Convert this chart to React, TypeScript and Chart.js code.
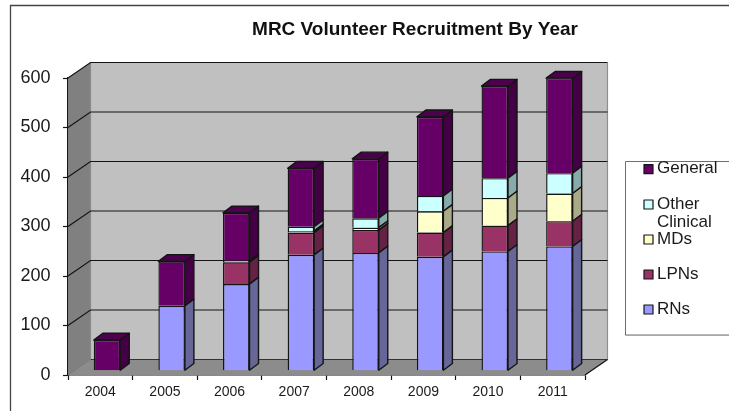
import React, { useEffect, useRef } from "react";
import { Chart, registerables } from "chart.js";

Chart.register(...registerables);

const years = ["2004", "2005", "2006", "2007", "2008", "2009", "2010", "2011"];
const rns = [null, 131, 175, 234, 238, 230, 241, 251];
const lpns = [null, null, 44, 45, 46, 49, 52, 51];
const mds = [null, null, 3, 3, 5, 43, 56, 56];
const otherClinical = [null, null, null, 9, 19, 31, 40, 41];
const general = [62, 90, 97, 118, 120, 160, 186, 192];

const FONT = "'Liberation Sans', Arial, sans-serif";
const INK = "#141414";
// shift of the bar row into the floor, and depth of each bar
const ROW = { x: 6.7, y: -4.3 };
const BAR = { x: 9, y: -6.7 };
// depth of the whole plot box
const BOX = { x: 22.5, y: -15.5 };

const series = [
  { label: "RNs", data: rns, front: "#9999FF", side: "#666699" },
  { label: "LPNs", data: lpns, front: "#993366", side: "#662244" },
  { label: "MDs", data: mds, front: "#FFFFCC", side: "#AAAA88" },
  { label: "Other Clinical", data: otherClinical, front: "#CCFFFF", side: "#88AAAA" },
  { label: "General", data: general, front: "#660066", side: "#440044" },
];
const topFace = "#4D004D";

function poly(ctx: CanvasRenderingContext2D, pts: number[][], fill: string | null, stroke: string | null, lw = 1.4) {
  ctx.beginPath();
  pts.forEach((p, i) => (i ? ctx.lineTo(p[0], p[1]) : ctx.moveTo(p[0], p[1])));
  ctx.closePath();
  if (fill) {
    ctx.fillStyle = fill;
    ctx.fill();
  }
  if (stroke) {
    ctx.strokeStyle = stroke;
    ctx.lineWidth = lw;
    ctx.lineJoin = "round";
    ctx.stroke();
  }
}

function line(ctx: CanvasRenderingContext2D, pts: number[][], color: string, lw: number) {
  ctx.beginPath();
  pts.forEach((p, i) => (i ? ctx.lineTo(p[0], p[1]) : ctx.moveTo(p[0], p[1])));
  ctx.strokeStyle = color;
  ctx.lineWidth = lw;
  ctx.stroke();
}

const frame3d = {
  id: "frame3d",
  beforeDraw(chart: any) {
    const { ctx } = chart;
    ctx.save();
    line(ctx, [[10.5, 411], [10.5, 5.5], [729, 5.5]], "#444444", 1.3);
    ctx.restore();
  },
  beforeDatasetsDraw(chart: any) {
    const { ctx, chartArea: a, scales } = chart;
    const { left: l, right: r, top: t, bottom: b } = a;
    const dx = BOX.x;
    const dy = BOX.y;
    ctx.save();
    poly(ctx, [[l + dx, t + dy], [r + dx, t + dy], [r + dx, b + dy], [l + dx, b + dy]], "#C0C0C0", null);
    poly(ctx, [[l, t], [l + dx, t + dy], [l + dx, b + dy], [l, b]], "#808080", null);
    poly(ctx, [[l, b], [l + dx, b + dy], [r + dx, b + dy], [r, b]], "#8C8C8C", null);
    // back wall right edge
    line(ctx, [[r + dx, t + dy], [r + dx, b + dy]], "#8F8F8F", 1.2);
    line(ctx, [[l + dx, t + dy], [l + dx, b + dy]], "#8A8A8A", 1.2);
    scales.y.ticks.forEach((tick: any, i: number) => {
      const y = scales.y.getPixelForTick(i);
      if (tick.value === 0) {
        line(ctx, [[l + dx, b + dy], [r + dx, b + dy]], "#333333", 1.2);
        line(ctx, [[l, b], [l + dx, b + dy]], "#777777", 1);
      } else {
        line(ctx, [[l, y], [l + dx, y + dy], [r + dx, y + dy]], INK, 1.2);
      }
    });
    line(ctx, [[r, b], [r + dx, b + dy]], INK, 1.3);
    ctx.restore();
  },
  beforeDatasetDraw(chart: any) {
    chart.ctx.save();
    chart.ctx.translate(ROW.x, ROW.y);
  },
  afterDatasetDraw(chart: any, args: any) {
    const { ctx } = chart;
    const meta = args.meta;
    const s = series[args.index];
    meta.data.forEach((el: any, i: number) => {
      if (el.skip || series[args.index].data[i] == null) return;
      const p = el.getProps(["x", "y", "base", "width"], true);
      const x0 = p.x - p.width / 2;
      const x1 = p.x + p.width / 2;
      poly(ctx, [[x1, p.y], [x1 + BAR.x, p.y + BAR.y], [x1 + BAR.x, p.base + BAR.y], [x1, p.base]], s.side, INK);
      const isTop = series.slice(args.index + 1).every((o) => o.data[i] == null);
      if (isTop) {
        poly(ctx, [[x0, p.y], [x0 + BAR.x, p.y + BAR.y], [x1 + BAR.x, p.y + BAR.y], [x1, p.y]], topFace, INK);
      }
    });
    ctx.restore();
  },
  afterDraw(chart: any) {
    const { ctx } = chart;
    ctx.save();
    // legend box, open to the right edge of the page
    ctx.fillStyle = "#FFFFFF";
    ctx.fillRect(625.5, 161.5, 104, 173);
    line(ctx, [[729, 161.5], [625.5, 161.5], [625.5, 335], [729, 335]], "#6E6E6E", 1);
    line(ctx, [[625.5, 335.5], [729, 335.5]], "#A8A8A8", 1);
    ctx.font = `17px ${FONT}`;
    ctx.textBaseline = "middle";
    ctx.textAlign = "left";
    const centers = [168.7, 204, 239, 274, 309];
    [...series].reverse().forEach((s, i) => {
      const cy = centers[i];
      poly(ctx, [[644, cy - 4], [653, cy - 4], [653, cy + 5], [644, cy + 5]], s.front, INK, 1.2);
      ctx.fillStyle = "#1A1A1A";
      const words = s.label.split(" ");
      words.forEach((w, k) => ctx.fillText(w, 657, cy + k * 18));
    });
    ctx.restore();
  },
};

export default function App() {
  const ref = useRef<HTMLCanvasElement | null>(null);
  useEffect(() => {
    document.body.style.margin = "0";
    const chart = new Chart(ref.current as HTMLCanvasElement, {
      type: "bar",
      data: {
        labels: years,
        datasets: series.map((s) => ({
          label: s.label,
          data: s.data,
          backgroundColor: s.front,
          borderColor: INK,
          borderWidth: 1.4,
          barPercentage: 0.41,
          categoryPercentage: 1,
          clip: false,
        })),
      },
      options: {
        animation: false,
        responsive: false,
        layout: { padding: { left: 0, right: 144, top: 0, bottom: 0 } },
        plugins: {
          legend: { display: false },
          tooltip: { enabled: false },
          title: {
            display: true,
            text: "MRC Volunteer Recruitment By Year",
            color: "#111111",
            font: { family: FONT, size: 19, weight: "bold", lineHeight: 1.2 },
            padding: { top: 18, bottom: 37.2 },
          },
        },
        scales: {
          x: {
            stacked: true,
            afterFit(scale: any) {
              scale.height = 36;
            },
            grid: { drawOnChartArea: false, offset: true, tickLength: 5, color: INK, tickWidth: 1.2 },
            border: { color: INK, width: 1.6 },
            ticks: {
              color: "#1A1A1A",
              padding: 3.5,
              maxRotation: 0,
              font: { family: FONT, size: 14 },
            },
          },
          y: {
            stacked: true,
            min: 0,
            max: 600,
            afterFit(scale: any) {
              scale.width = 68;
            },
            grid: { drawOnChartArea: false, tickLength: 5, color: INK, tickWidth: 1.2 },
            border: { color: INK, width: 1.6 },
            ticks: {
              stepSize: 100,
              color: "#1A1A1A",
              padding: 12.5,
              font: { family: FONT, size: 18 },
            },
          },
        },
      },
      plugins: [
        {
          id: "titleSpot",
          afterLayout(c: any) {
            const t = c.titleBlock;
            t.left = 251;
            t.right = 579;
          },
        },
        frame3d,
      ],
    } as any);
    return () => chart.destroy();
  }, []);
  return <canvas ref={ref} width={729} height={411} style={{ display: "block" }} />;
}
